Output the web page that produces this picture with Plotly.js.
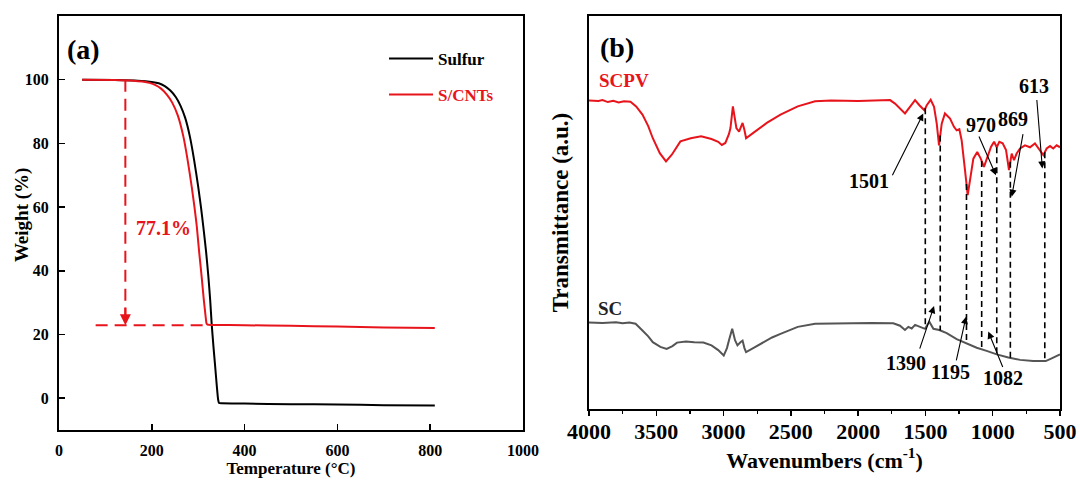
<!DOCTYPE html>
<html><head><meta charset="utf-8">
<script src="https://cdn.plot.ly/plotly-3.0.1.min.js"></script>
<style>html,body{margin:0;padding:0;background:#fff}#chart{width:1080px;height:481px}</style>
</head><body><div id="chart"></div>
<script>
// ---------- Panel (a): TGA ----------
const sulfurTemp   = [50, 120, 170, 200, 215, 228, 240, 252, 262, 272, 282, 291, 300, 306, 311, 317, 322, 326, 329, 333, 336, 340, 343, 345, 350, 400, 500, 600, 700, 810];
const sulfurWeight = [100, 99.9, 99.7, 99.3, 98.9, 98.0, 96.6, 94.5, 91.8, 88.0, 82.2, 75, 66.4, 60, 53.9, 46, 38.1, 30.5, 23.5, 16, 11, 4, -0.5, -1.5, -1.6, -1.7, -1.9, -2.0, -2.2, -2.3];
const scntTemp   = [50, 120, 160, 180, 195, 208, 220, 232, 244, 256, 268, 277, 286, 292, 297, 302, 307.5, 312, 315, 318, 320, 330, 400, 500, 600, 700, 810];
const scntWeight = [100, 99.9, 99.7, 99.4, 99.0, 98.3, 97.2, 95.4, 92.8, 88.8, 82.2, 75, 66.4, 60, 53.9, 46, 38.1, 31, 27, 23.5, 23.1, 23.0, 22.9, 22.7, 22.5, 22.2, 22.0];
const tgaXTicks = [0, 200, 400, 600, 800, 1000];
const tgaYTicks = [0, 20, 40, 60, 80, 100];
// weight-loss guide (77.1 %)
const guideTemp = 143, guideStartTemp = 79, guideEndTemp = 320;
const guideTopWeight = 100, guideResidueWeight = 22.9;
const lossLabel = '77.1%';

// ---------- Panel (b): FTIR ----------
const scpvWave = [4000,3930,3900,3860,3820,3780,3740,3692,3650,3603,3560,3526,3474,3428,3385,3321,3244,3167,3090,3040,3013,2987,2960,2949,2931,2915,2905,2885,2870,2859,2845,2833,2782,2679,2577,2449,2320,2200,2000,1838,1763,1726,1652,1615,1577,1545,1508,1490,1461,1436,1416,1399,1379,1355,1317,1288,1268,1248,1231,1206,1186,1169,1144,1115,1089,1065,1040,1013,990,970,951,926,901,879,859,842,822,797,760,723,686,649,624,599,574,550,525,500];
const scpvTrans = [78.5,78.4,78.6,78.1,78.4,78.0,78.3,78.2,77.0,74.9,72.0,68.9,65.1,63.0,64.7,68.1,68.9,69.4,68.7,68.0,67.2,67.7,70.0,71.5,77.0,73.5,71.5,70.6,72.0,72.8,71.0,68.9,70.2,72.8,74.9,77.0,78.3,78.5,78.4,78.6,78.6,77.7,75.2,76.9,78.6,77.3,76.0,77.3,78.7,76.9,72.6,67.1,72.6,75.2,73.9,71.8,70.9,71.2,68.4,60.8,54.4,58.2,63.7,65.4,63.7,61.6,64.1,66.7,68.0,66.6,68.0,67.6,65.9,60.8,65.0,63.3,65.0,66.3,67.1,66.6,67.6,65.9,64.6,66.3,66.9,66.3,67.1,66.6];
const scWave = [4000,3900,3800,3750,3700,3654,3603,3560,3526,3470,3423,3380,3346,3280,3218,3150,3090,3040,2999,2975,2960,2936,2915,2897,2875,2859,2845,2833,2780,2705,2640,2577,2449,2320,2100,1900,1739,1689,1652,1627,1602,1577,1540,1503,1471,1441,1397,1342,1268,1193,1119,1045,970,884,797,699,606,562,500];
const scTrans = [22.0,21.9,22.1,21.8,22.0,21.7,20.0,18.5,17.0,15.8,15.3,16.0,16.9,17.2,17.0,16.9,16.2,15.0,13.6,15.5,17.5,20.4,17.5,16.2,17.0,17.4,15.5,14.5,15.5,17.0,18.2,19.1,20.9,21.7,21.9,21.9,21.8,21.2,20.1,20.9,20.5,21.4,20.9,20.4,22.2,20.4,20.1,19.3,17.8,16.7,15.6,14.8,13.9,13.1,12.5,12.2,12.2,12.9,13.9];
const ftirXTicks = [4000, 3500, 3000, 2500, 2000, 1500, 1000, 500];
const peakWave = [1501, 1390, 1195, 1082, 970, 869, 613];
const peakLabels = ['1501', '1390', '1195', '1082', '970', '869', '613'];
const peakLabelWave  = [1923, 1644, 1317, 921, 1089, 847, 693];
const peakLabelTrans = [57.9, 11.6, 9.3, 7.8, 72.2, 73.9, 82.1];
const arrowTailWave  = [1751, 1546, 1273, 921, 1107, 773, 673];
const arrowTailTrans = [59.1, 15.0, 12.0, 10.3, 69.7, 70.3, 79.0];
const arrowHeadWave  = [1516, 1436, 1198, 1033, 976, 859, 631];
const arrowHeadTrans = [75.2, 26.2, 23.5, 19.7, 59.5, 54.0, 61.2];

const RED = '#e8141c', GRAY = '#555555', BLACK = '#000000';
const FONT = 'Liberation Serif, Times New Roman, serif';
const bold = (size, color) => ({family: FONT, size: size, color: color || BLACK, weight: 'bold'});

function interp(xs, ys, x) {
  for (let i = 0; i < xs.length - 1; i++) {
    const a = xs[i], b = xs[i + 1];
    if ((x <= a && x >= b) || (x >= a && x <= b)) {
      const t = (x - a) / (b - a);
      return ys[i] + t * (ys[i + 1] - ys[i]);
    }
  }
  return ys[ys.length - 1];
}

const peakLineX = [], peakLineY = [];
peakWave.forEach(w => {
  peakLineX.push(w, w, null);
  peakLineY.push(interp(scpvWave, scpvTrans, w), interp(scWave, scTrans, w), null);
});

const traces = [
  {x: sulfurTemp, y: sulfurWeight, type: 'scatter', mode: 'lines', name: 'Sulfur',
   line: {color: BLACK, width: 2, shape: 'spline', smoothing: 0.5}, legendgroup: 'g1', xaxis: 'x', yaxis: 'y'},
  {x: scntTemp, y: scntWeight, type: 'scatter', mode: 'lines',
   name: '<span style="color:' + RED + '">S/CNTs</span>',
   line: {color: RED, width: 2, shape: 'spline', smoothing: 0.5}, legendgroup: 'g2', xaxis: 'x', yaxis: 'y'},
  {x: [guideTemp, guideTemp, null, guideStartTemp, guideEndTemp],
   y: [guideTopWeight, guideResidueWeight + 3, null, guideResidueWeight, guideResidueWeight],
   type: 'scatter', mode: 'lines', showlegend: false, hoverinfo: 'skip',
   line: {color: RED, width: 2, dash: '12px,7px'}, xaxis: 'x', yaxis: 'y'},
  {x: scpvWave, y: scpvTrans, type: 'scatter', mode: 'lines', name: 'SCPV', showlegend: false,
   line: {color: RED, width: 2}, xaxis: 'x2', yaxis: 'y2'},
  {x: scWave, y: scTrans, type: 'scatter', mode: 'lines', name: 'SC', showlegend: false,
   line: {color: GRAY, width: 2}, xaxis: 'x2', yaxis: 'y2'},
  {x: peakLineX, y: peakLineY, type: 'scatter', mode: 'lines', showlegend: false, hoverinfo: 'skip',
   line: {color: BLACK, width: 1.6, dash: '6px,4px'}, xaxis: 'x2', yaxis: 'y2'}
];

const annotations = [
  {xref: 'paper', yref: 'paper', x: -0.037, y: 0.519, text: 'Weight (%)', textangle: -90, showarrow: false,
   xanchor: 'center', yanchor: 'middle', font: bold(19)},
  {xref: 'x', yref: 'y', x: 13, y: 109.6, text: '(a)', showarrow: false, xanchor: 'left', yanchor: 'middle', font: bold(28)},
  {xref: 'x', yref: 'y', x: 162, y: 53.5, text: lossLabel, showarrow: false, xanchor: 'left', yanchor: 'middle', font: bold(20, RED)},
  {xref: 'x', yref: 'y', axref: 'x', ayref: 'y', x: guideTemp, y: guideResidueWeight, ax: guideTemp, ay: guideResidueWeight + 6,
   text: '', showarrow: true, arrowhead: 2, arrowsize: 1.1, arrowwidth: 2, arrowcolor: RED, standoff: 0},
  {xref: 'x2', yref: 'y2', x: 3933, y: 92.1, text: '(b)', showarrow: false, xanchor: 'left', yanchor: 'middle', font: bold(28)},
  {xref: 'x2', yref: 'y2', x: 3941, y: 83.6, text: 'SCPV', showarrow: false, xanchor: 'left', yanchor: 'middle', font: bold(19, RED)},
  {xref: 'x2', yref: 'y2', x: 3949, y: 25.5, text: 'SC', showarrow: false, xanchor: 'left', yanchor: 'middle', font: bold(19, '#222222')}
];
peakWave.forEach((w, i) => {
  annotations.push({xref: 'x2', yref: 'y2', x: peakLabelWave[i], y: peakLabelTrans[i], text: peakLabels[i],
    showarrow: false, xanchor: 'center', yanchor: 'middle', font: bold(20)});
  annotations.push({xref: 'x2', yref: 'y2', axref: 'x2', ayref: 'y2', x: arrowHeadWave[i], y: arrowHeadTrans[i],
    ax: arrowTailWave[i], ay: arrowTailTrans[i], text: '', showarrow: true, arrowhead: 2, arrowsize: 1.3,
    arrowwidth: 1.1, arrowcolor: BLACK, standoff: 0});
});

const frame = {showline: true, linecolor: BLACK, linewidth: 2, mirror: true, showgrid: false, zeroline: false};

const layout = {
  width: 1080, height: 481,
  margin: {l: 59, r: 20, t: 16, b: 51, pad: 0},
  paper_bgcolor: '#fff', plot_bgcolor: '#fff',
  showlegend: true,
  legend: {x: 0.3247, y: 0.94, xanchor: 'left', yanchor: 'top', bgcolor: 'rgba(0,0,0,0)', borderwidth: 0,
    font: bold(17), tracegroupgap: 11, itemwidth: 44},
  xaxis: Object.assign({}, frame, {domain: [0, 0.4635], range: [0, 1000], tickvals: tgaXTicks,
    ticks: 'inside', ticklen: 6, tickwidth: 1.5, tickcolor: BLACK, tickfont: bold(16), ticklabelstandoff: 5,
    title: {text: 'Temperature (°C)', font: bold(17), standoff: 2}}),
  yaxis: Object.assign({}, frame, {domain: [0, 1], range: [-10, 120], tickvals: tgaYTicks,
    ticks: 'inside', ticklen: 6, tickwidth: 1.5, tickcolor: BLACK, tickfont: bold(16), ticklabelstandoff: 5}),
  xaxis2: Object.assign({}, frame, {domain: [0.5295, 1], range: [4000, 500], tickvals: ftirXTicks,
    ticks: 'outside', ticklen: 5, tickwidth: 1.5, tickcolor: BLACK, tickfont: bold(22), ticklabelstandoff: -3,
    minor: {dtick: 250, ticks: 'outside', ticklen: 3, tickwidth: 1.2, tickcolor: BLACK},
    title: {text: 'Wavenumbers (cm<sup>-1</sup>)', font: bold(22), standoff: 6}, anchor: 'y2'}),
  yaxis2: Object.assign({}, frame, {domain: [0.0507, 1], range: [0, 100], showticklabels: false, ticks: '',
    title: {text: 'Transmittance (a.u.)', font: bold(23), standoff: 12}, anchor: 'x2'}),
  annotations: annotations
};

Plotly.newPlot('chart', traces, layout, {displayModeBar: false, staticPlot: true});
</script>
</body></html>
